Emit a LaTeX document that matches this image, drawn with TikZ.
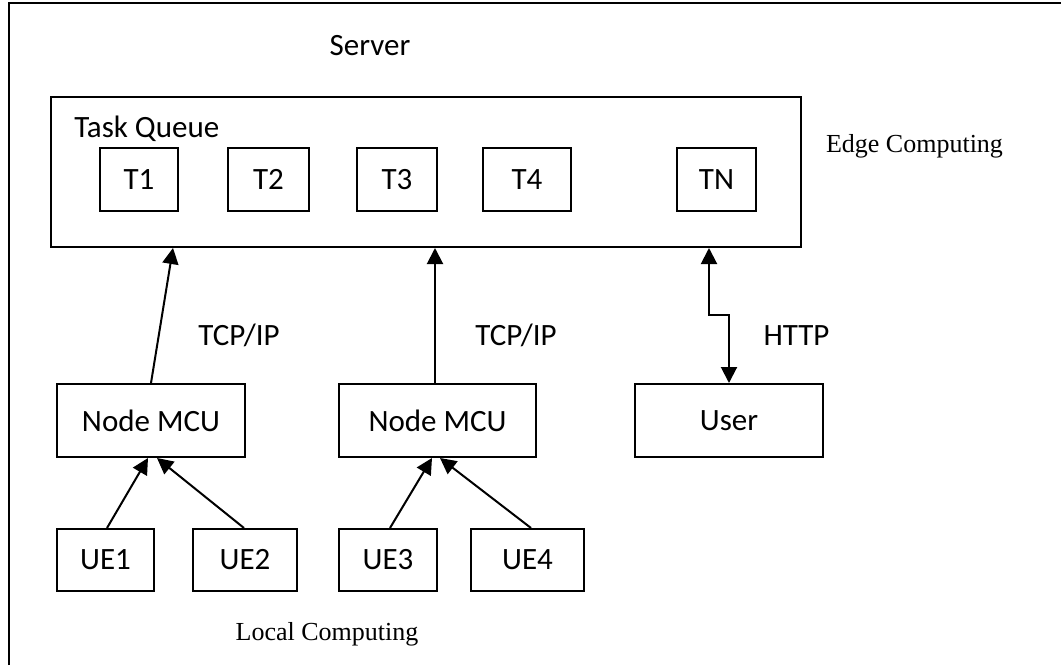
\documentclass[tikz,border=0pt]{standalone}
\usepackage{fontspec}
\setmainfont{Liberation Serif}
\newfontfamily\calfont{Carlito}
\usetikzlibrary{arrows.meta,calc}
\newdimen\px \px=0.75pt
\tikzset{
  box/.style={draw, line width=1.5pt, inner sep=0pt, font=\calfont\fontsize{23.25}{27}\selectfont},
  lbl/.style={inner sep=0pt, anchor=base, font=\calfont\fontsize{23.25}{27}\selectfont},
  serif/.style={inner sep=0pt, anchor=base, font=\fontsize{19.5}{23}\selectfont},
  arr/.style={line width=1.5pt, -{Triangle[length=12pt,width=12pt]}},
  biarr/.style={line width=1.5pt, {Triangle[length=12pt,width=12pt]}-{Triangle[length=12pt,width=12pt]}}
}
\begin{document}
\begin{tikzpicture}[x=0.75pt,y=-0.75pt]
\useasboundingbox (0,0) rectangle (1061,665);
% outer frame (left and top only)
\draw[line width=2.1pt] (9,665) -- (9,3) -- (1061,3);

% texts
\node[lbl] (server) at (370,55) {Server};
\node[serif] (edge) at (914.5,152) {Edge Computing};
\node[serif] (local) at (327,640) {Local Computing};

% task queue
\node[box, minimum width=750\px, minimum height=150\px] (queue) at (426,172) {};
\node[lbl, anchor=base west] (tq) at (74,137) {Task Queue};
\node[box, minimum width=78\px, minimum height=63\px] (t1) at (139,179.5) {T1};
\node[box, minimum width=81\px, minimum height=63\px] (t2) at (268.5,179.5) {T2};
\node[box, minimum width=80\px, minimum height=63\px] (t3) at (397,179.5) {T3};
\node[box, minimum width=88\px, minimum height=63\px] (t4) at (527,179.5) {T4};
\node[box, minimum width=79\px, minimum height=63\px] (tn) at (716.5,179.5) {TN};

% middle row
\node[box, minimum width=188\px, minimum height=73\px] (mcu1) at (151,420.5) {Node MCU};
\node[box, minimum width=197\px, minimum height=73\px] (mcu2) at (437.5,420.5) {Node MCU};
\node[box, minimum width=188\px, minimum height=73\px] (user) at (729,420.5) {User};

% bottom row
\node[box, minimum width=97\px, minimum height=62\px] (ue1) at (105.5,560) {UE1};
\node[box, minimum width=104\px, minimum height=62\px] (ue2) at (245,560) {UE2};
\node[box, minimum width=98\px, minimum height=62\px] (ue3) at (388,560) {UE3};
\node[box, minimum width=113\px, minimum height=62\px] (ue4) at (527.5,560) {UE4};

% protocol labels
\node[lbl] (tcp1) at (239,345) {TCP/IP};
\node[lbl] (tcp2) at (516,345) {TCP/IP};
\node[lbl] (http) at (796.5,345) {HTTP};

% connectors
\draw[arr] (mcu1.north) -- ($(queue.south west)+(123,0)$);
\coordinate (m2) at ($(mcu2.north)+(-2.5,0)$);
\draw[arr] (m2) -- (m2 |- queue.south);
\coordinate (hq) at ($(queue.south west)+(659,0)$);
\draw[biarr] (hq) -- ($(hq)+(0,67)$) -| (user.north);

\draw[arr] ($(ue1.north)+(1.5,0)$) -- ($(mcu1.south)+(-3,0)$);
\draw[arr] ($(ue2.north)+(-1,0)$) -- ($(mcu1.south)+(6,0)$);
\draw[arr] ($(ue3.north)+(2,0)$) -- ($(mcu2.south)+(-5.5,0)$);
\draw[arr] ($(ue4.north)+(3.5,0)$) -- ($(mcu2.south)+(2.5,0)$);
\end{tikzpicture}
\end{document}
